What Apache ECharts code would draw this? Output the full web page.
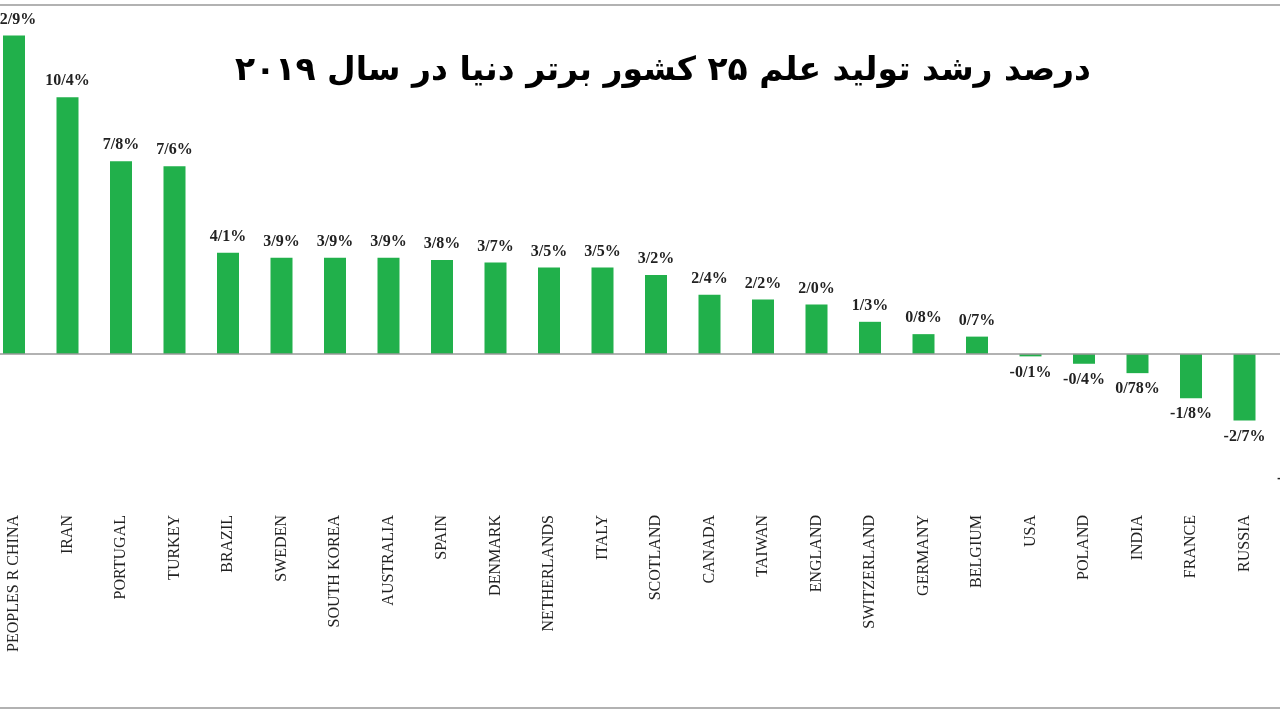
<!DOCTYPE html>
<html lang="en">
<head>
<meta charset="UTF-8">
<title>Chart</title>
<script src="https://cdn.jsdelivr.net/npm/echarts@6/dist/echarts.min.js"></script>
<style>body{margin:0;background:#fff}</style>
</head>
<body>
<div id="app" style="width:1280px;height:720px"></div>
<script>
var countries = ["PEOPLES R CHINA","IRAN","PORTUGAL","TURKEY","BRAZIL","SWEDEN","SOUTH KOREA","AUSTRALIA","SPAIN","DENMARK","NETHERLANDS","ITALY","SCOTLAND","CANADA","TAIWAN","ENGLAND","SWITZERLAND","GERMANY","BELGIUM","USA","POLAND","INDIA","FRANCE","RUSSIA","JAPAN"];
var growth = [12.9,10.4,7.8,7.6,4.1,3.9,3.9,3.9,3.8,3.7,3.5,3.5,3.2,2.4,2.2,2.0,1.3,0.8,0.7,-0.1,-0.4,-0.78,-1.8,-2.7,-4.4];
var labelText = ["12/9%","10/4%","7/8%","7/6%","4/1%","3/9%","3/9%","3/9%","3/8%","3/7%","3/5%","3/5%","3/2%","2/4%","2/2%","2/0%","1/3%","0/8%","0/7%","-0/1%","-0/4%","0/78%","-1/8%","-2/7%","-4/4%"];

var myChart = echarts.init(document.getElementById('app'));
var option = {
  animation: false,
  title: {
    text: "درصد رشد تولید علم ۲۵ کشور برتر دنیا در سال ۲۰۱۹",
    left: 658, top: 50, textAlign: 'center',
    textStyle: {fontFamily: 'DejaVu Sans', fontSize: 33, fontWeight: 'bold', color: '#000'}
  },
  graphic: [
    {type: 'line', shape: {x1: 0, y1: 5, x2: 1280, y2: 5}, style: {stroke: '#999', lineWidth: 1.5}},
    {type: 'line', shape: {x1: 0, y1: 708, x2: 1280, y2: 708}, style: {stroke: '#999', lineWidth: 1.5}}
  ],
  grid: {left: -12.75, right: -44.75, top: 33, bottom: 218, outerBoundsMode: 'none', containLabel: false},
  xAxis: {
    type: 'category', data: countries,
    axisLine: {show: false}, axisTick: {show: false},
    axisLabel: {rotate: 90, interval: 0, margin: 13, fontFamily: 'Liberation Serif', fontSize: 16, color: '#222'}
  },
  yAxis: {type: 'value', min: -6, max: 13, show: false},
  series: [{
    type: 'bar', barWidth: 22,
    data: growth.map(function (v) {
      return v < 0 ? {value: v, label: {position: 'bottom'}} : v;
    }),
    itemStyle: {color: '#21b04b'},
    label: {
      show: true,
      position: 'top',
      formatter: function (p) { return labelText[p.dataIndex]; },
      fontFamily: 'Liberation Serif', fontSize: 16, fontWeight: 'bold', color: '#222', distance: 8
    },
    markLine: {
      silent: true, symbol: 'none', label: {show: false},
      lineStyle: {color: '#999', type: 'solid', width: 1.5},
      data: [{yAxis: 0}]
    }
  }]
};
myChart.setOption(option);
</script>
</body>
</html>
